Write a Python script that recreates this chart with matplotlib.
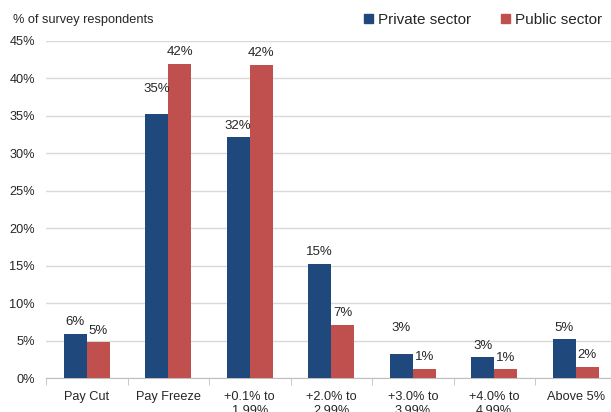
import numpy as np
import matplotlib
matplotlib.use("Agg")
import matplotlib.pyplot as plt
from matplotlib.patches import Patch

plt.rcParams['font.family'] = ['Liberation Sans', 'DejaVu Sans']

categories = ['Pay Cut', 'Pay Freeze', '+0.1% to\n1.99%', '+2.0% to\n2.99%',
              '+3.0% to\n3.99%', '+4.0% to\n4.99%', 'Above 5%']
private = [5.9, 35.2, 32.1, 15.3, 3.3, 2.8, 5.2]
public = [4.8, 41.9, 41.8, 7.1, 1.3, 1.2, 1.5]
private_labels = ['6%', '35%', '32%', '15%', '3%', '3%', '5%']
public_labels = ['5%', '42%', '42%', '7%', '1%', '1%', '2%']

blue = '#1F497D'
red = '#C0504D'
txt = '#262626'

fig = plt.figure(figsize=(6.11, 4.12), dpi=100)
ax = fig.add_axes([46 / 611, 33.7 / 412, 570.5 / 611, 337.6 / 412])

x = np.arange(len(categories))
w = 0.282
b1 = ax.bar(x - w / 2, private, w, color=blue, zorder=3)
b2 = ax.bar(x + w / 2, public, w, color=red, zorder=3)

# labels sit ~6px above the bars, a couple were nudged higher in the original
extra = {(0, 1): 10, (0, 4): 10}
for s, (bars, labs) in enumerate([(b1, private_labels), (b2, public_labels)]):
    for i, (r, lab) in enumerate(zip(bars, labs)):
        ax.annotate(lab, (r.get_x() + r.get_width() / 2, r.get_height()),
                    xytext=(0, 4 + extra.get((s, i), 0)), textcoords='offset points',
                    ha='center', va='bottom', fontsize=9.5, color=txt)

ax.set_xlim(-0.5, 6.5)
ax.set_ylim(0, 45)
ax.set_yticks(np.arange(0, 46, 5))
ax.set_yticklabels([f'{v}%' for v in range(0, 46, 5)])
ax.set_xticks(x)
ax.set_xticklabels(categories)
ax.set_xticks(np.arange(-0.5, 7, 1), minor=True)

ax.grid(axis='y', color='#D9D9D9', linewidth=1, zorder=0)
for sp in ['top', 'right', 'left']:
    ax.spines[sp].set_visible(False)
ax.spines['bottom'].set_color('#BFBFBF')
ax.tick_params(axis='y', length=0, pad=8, labelsize=9.2, labelcolor=txt)
ax.tick_params(axis='x', which='major', length=0, pad=9, labelsize=9.2, labelcolor=txt)
ax.tick_params(axis='x', which='minor', length=5, color='#BFBFBF')
for t in ax.get_xticklabels():
    t.set_linespacing(1.3)

fig.text(13 / 611, 1 - 20 / 412, '% of survey respondents', fontsize=9.2,
         color=txt, va='center', ha='left')

handles = [Patch(color=blue, label='Private sector'), Patch(color=red, label='Public sector')]
fig.legend(handles=handles, loc='center', bbox_to_anchor=(483 / 611, 1 - 20 / 412),
           ncol=2, frameon=False, fontsize=11, handlelength=0.6, handleheight=0.6,
           handletextpad=0.3, columnspacing=2.0, labelcolor=txt)

fig.savefig('out.png', dpi=100)
